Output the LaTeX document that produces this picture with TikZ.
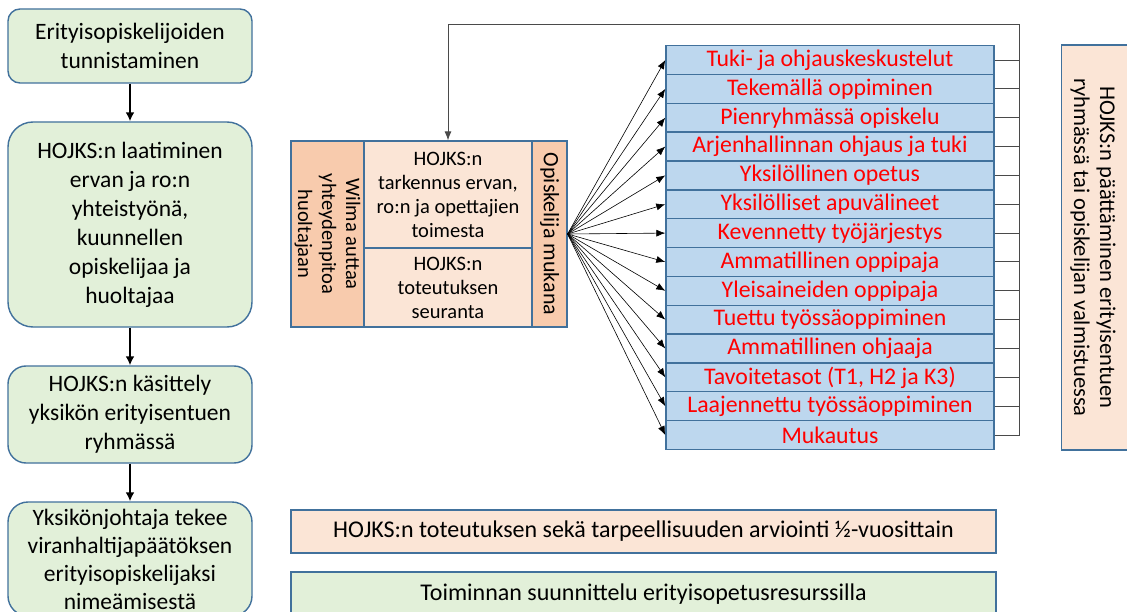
\documentclass[tikz,border=0pt]{standalone}
\usepackage{fontspec}
\setmainfont{Carlito}
\usetikzlibrary{arrows.meta}
\definecolor{edge}{HTML}{41719C}
\definecolor{greenfill}{HTML}{E2F0D9}
\definecolor{peach}{HTML}{FBE5D6}
\definecolor{peachdark}{HTML}{F8CBAD}
\definecolor{listblue}{HTML}{BDD7EE}
\definecolor{listred}{HTML}{FF0000}
\definecolor{wire}{HTML}{4A4A4A}

\begin{document}
\begin{tikzpicture}[x=1pt,y=-1pt,
  flowbox/.style={draw=edge, line width=1.4pt, fill=greenfill, minimum width=244pt,
    align=center, inner sep=0pt, font=\fontsize{23.5}{29}\selectfont},
  flowarrow/.style={line width=2pt, -{Latex[length=9pt,width=9pt]}},
  cell/.style={draw=edge, line width=1.2pt, align=center, inner sep=0pt,
    font=\fontsize{20.5}{24}\selectfont},
  listrow/.style={draw=edge, line width=1.4pt, fill=listblue, minimum width=328pt,
    minimum height=28.85pt, inner sep=0pt, text=listred,
    font=\fontsize{23.8}{28}\selectfont},
  fan/.style={line width=0.6pt, -{Latex[length=9pt,width=7pt]}},
  wireline/.style={draw=wire, line width=0.9pt},
  bar/.style={draw=edge, line width=1.2pt, minimum width=705pt, inner sep=0pt,
    font=\fontsize{24}{28}\selectfont}
]
\clip (0,0) rectangle (1127,612);
\fill[white] (0,0) rectangle (1127,612);

% process column
\node[flowbox, rounded corners=12pt, minimum height=74pt] (s1) at (130,46)
  {Erityisopiskelijoiden\\tunnistaminen};
\node[flowbox, rounded corners=25pt, minimum height=205pt] (s2) at (130,224.5)
  {HOJKS:n laatiminen\\ervan ja ro:n\\yhteistyönä,\\kuunnellen\\opiskelijaa ja\\huoltajaa};
\node[flowbox, rounded corners=18pt, minimum height=97pt] (s3) at (130,414.5)
  {HOJKS:n käsittely\\yksikön erityisentuen\\ryhmässä};
\node[flowbox, rounded corners=20pt, minimum height=114pt,
  font=\fontsize{23.5}{28}\selectfont] (s4) at (130,559)
  {Yksikönjohtaja tekee\\viranhaltijapäätöksen\\erityisopiskelijaksi\\nimeämisestä};
\draw[flowarrow] (s1) -- (s2);
\draw[flowarrow] (s2) -- (s3);
\draw[flowarrow] (s3) -- (s4);

% central block
\node[cell, fill=peachdark, rotate=-90, minimum width=186pt, minimum height=73pt] (wilma)
  at (327.5,234) {Wilma auttaa\\yhteydenpitoa\\huoltajaan};
\node[cell, fill=peach, minimum width=168pt, minimum height=107pt] (mtop)
  at (448,194.5) {HOJKS:n\\tarkennus ervan,\\ro:n ja opettajien\\toimesta};
\node[cell, fill=peach, minimum width=168pt, minimum height=79pt] (mbot)
  at (448,287.5) {HOJKS:n\\toteutuksen\\seuranta};
\node[cell, fill=peachdark, rotate=-90, minimum width=186pt, minimum height=35pt,
  font=\fontsize{22}{24}\selectfont] (opisk)
  at (549.5,234) {Opiskelija mukana};

% support measures
\foreach [count=\i] \t in {Tuki- ja ohjauskeskustelut, Tekemällä oppiminen,
    Pienryhmässä opiskelu, Arjenhallinnan ohjaus ja tuki, Yksilöllinen opetus,
    Yksilölliset apuvälineet, Kevennetty työjärjestys, Ammatillinen oppipaja,
    Yleisaineiden oppipaja, Tuettu työssäoppiminen, Ammatillinen ohjaaja,
    {Tavoitetasot (T1, H2 ja K3)}, Laajennettu työssäoppiminen, Mukautus}
  \node[listrow] (r\i) at (830,{60+(\i-1)*28.85}) {\t};

\foreach \i in {1,...,14}
  \draw[fan] (opisk.north) -- (r\i.west);

% feedback wire from the measures back to the plan
\coordinate (bus) at (1019,24);
\foreach \i in {1,...,13}
  \draw[wireline] (r\i.east) -- (r\i.east -| bus);
\draw[wireline, -{Latex[length=9pt,width=7pt]}] (r14.east) -| (bus) -| (mtop.north);

% closing step
\node[draw=edge, line width=1.2pt, fill=peach, minimum width=405pt, minimum height=74pt,
  rotate=-90, inner sep=0pt] (endbox) at (1098.5,247.5) {};
\node[rotate=-90, align=center, inner sep=0pt, font=\fontsize{22.5}{26}\selectfont]
  (endtext) at (1093,247.5)
  {HOJKS:n päättäminen erityisentuen\\ryhmässä tai opiskelijan valmistuessa};

% follow-up bars
\node[bar, fill=peach, minimum height=43pt] (eval) at (643.5,531.5)
  {HOJKS:n toteutuksen sekä tarpeellisuuden arviointi ½-vuosittain};
\node[bar, fill=greenfill, minimum height=44pt] (plan) at (643.5,594)
  {Toiminnan suunnittelu erityisopetusresurssilla};
\end{tikzpicture}
\end{document}
